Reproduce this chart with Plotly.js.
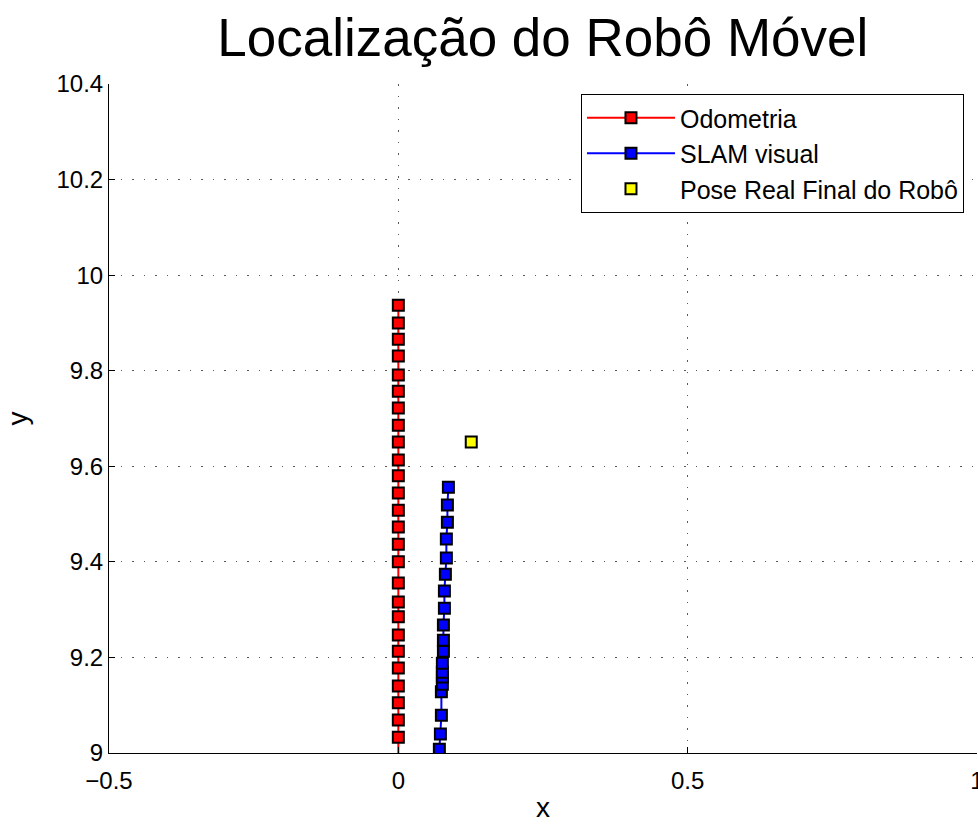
<!DOCTYPE html>
<html>
<head>
<meta charset="utf-8">
<script src="https://cdn.plot.ly/plotly-3.0.1.min.js"></script>
<style>html,body{margin:0;padding:0;background:#fff;}#chart{width:978px;height:825px;}</style>
</head>
<body>
<div id="chart"></div>
<script>
// Odometria (x, y)
const odoX = [0,0,0,0,0,0,0,0,0,0,0,0,0,0,0,0,0,0,0,0,0,0,0,0,0,0,0];
const odoY = [8.95, 9.033, 9.069, 9.105, 9.140, 9.178, 9.213, 9.247, 9.285, 9.316, 9.356, 9.400, 9.437, 9.473,
              9.508, 9.544, 9.580, 9.613, 9.651, 9.686, 9.722, 9.757, 9.791, 9.831, 9.866, 9.900, 9.937];
// SLAM visual (x, y)
const slamX = [0.0709, 0.0727, 0.0744, 0.0744, 0.0761, 0.0761, 0.0761, 0.0761, 0.0779, 0.0779, 0.0779,
               0.0796, 0.0796, 0.0813, 0.0830, 0.0830, 0.0848, 0.0848, 0.0865];
const slamY = [9.008, 9.040, 9.079, 9.128, 9.144, 9.159, 9.169, 9.188, 9.213, 9.236, 9.268,
               9.303, 9.339, 9.374, 9.408, 9.448, 9.483, 9.519, 9.556];
// Pose real final
const realX = [0.126];
const realY = [9.651];

const names = ["Odometria", "SLAM visual", "Pose Real Final do Robô"];
const titleText = "Localização do Robô Móvel";

const font = "Liberation Sans, Arial, Helvetica, sans-serif";
const mk = (c) => ({symbol: "square", size: 11, color: c, line: {color: "#000", width: 2}});

const data = [
  {x: odoX, y: odoY, name: names[0], mode: "lines+markers", type: "scatter",
   line: {color: "#ff0000", width: 2}, marker: mk("#ff0000")},
  {x: slamX, y: slamY, name: names[1], mode: "lines+markers", type: "scatter",
   line: {color: "#0000ff", width: 2}, marker: mk("#0000ff")},
  {x: realX, y: realY, name: names[2], mode: "markers", type: "scatter",
   marker: mk("#ffff00")}
];

const gridStyle = {showgrid: true, gridcolor: "rgba(0,0,0,0.65)", griddash: "1.5px,10px", gridwidth: 1};

const layout = {
  width: 978, height: 825,
  paper_bgcolor: "#fff", plot_bgcolor: "#fff",
  margin: {l: 109, r: 1, t: 84, b: 72},
  font: {family: font, color: "#000", size: 24},
  title: {text: titleText, font: {family: font, size: 53, color: "#000"},
          x: 0.555, xanchor: "center", y: 0.955, yanchor: "middle"},
  xaxis: Object.assign({
    range: [-0.5, 1], dtick: 0.5, tick0: -0.5, zeroline: false,
    showline: true, linecolor: "#000", linewidth: 1, mirror: false,
    ticks: "inside", ticklen: 6, tickcolor: "#000",
    ticklabeloverflow: "allow", ticklabelstandoff: 6,
    tickfont: {family: font, size: 24},
    title: {text: "x", font: {family: font, size: 28}, standoff: 4}
  }, gridStyle),
  yaxis: Object.assign({
    range: [9, 10.4], dtick: 0.2, tick0: 9, zeroline: false,
    showline: true, linecolor: "#000", linewidth: 1, mirror: false,
    ticks: "inside", ticklen: 6, tickcolor: "#000",
    tickfont: {family: font, size: 24},
    title: {text: "y", font: {family: font, size: 28}, standoff: 20}
  }, gridStyle),
  showlegend: true,
  legend: {x: 0.985, xanchor: "right", y: 0.985, yanchor: "top",
           bgcolor: "#fff", bordercolor: "#000", borderwidth: 1,
           font: {family: font, size: 25}, itemwidth: 88, tracegroupgap: 0}
};

Plotly.newPlot("chart", data, layout, {staticPlot: true, displayModeBar: false});
</script>
</body>
</html>
